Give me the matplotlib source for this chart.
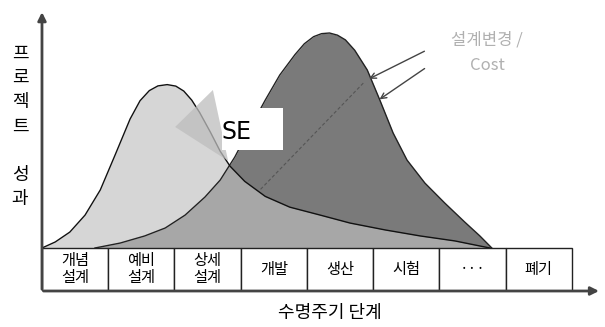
import matplotlib.pyplot as plt
from matplotlib.patches import Rectangle, Polygon

plt.rcParams['font.family'] = ['Noto Sans CJK KR', 'DejaVu Sans']

# life cycle phases (boxes along the x axis)
phases = ['개념\n설계', '예비\n설계', '상세\n설계', '개발', '생산', '시험', '···', '폐기']

# SE effort curve (light), x in phase units, y in % of the cost peak
se_x = [0.00, 0.20, 0.42, 0.65, 0.88, 1.10, 1.33, 1.48, 1.62, 1.75, 1.89, 2.02, 2.14,
        2.26, 2.38, 2.54, 2.69, 2.84, 3.06, 3.37, 3.74, 4.20, 4.65, 5.18, 5.71, 6.23, 6.76]
se_y = [0.0, 2.8, 7.4, 15.3, 27.0, 43.0, 60.0, 68.5, 73.2, 75.4, 76.0, 75.3, 73.0,
        68.8, 63.0, 54.0, 45.0, 38.0, 31.0, 24.0, 19.0, 15.3, 11.6, 8.4, 5.6, 3.3, 0.0]

# design change / cost curve (dark)
cost_x = [0.80, 1.18, 1.55, 1.86, 2.16, 2.46, 2.69, 2.91, 3.14, 3.37, 3.59, 3.82, 3.96,
          4.10, 4.22, 4.34, 4.46, 4.58, 4.72, 4.91, 5.10, 5.30, 5.51, 5.78, 6.08, 6.38,
          6.61, 6.79]
cost_y = [0.0, 2.3, 5.6, 9.3, 15.3, 23.7, 31.6, 42.3, 55.8, 68.8, 80.5, 90.0, 95.0,
          98.3, 99.7, 100.0, 99.0, 96.8, 92.0, 82.8, 68.8, 53.5, 40.9, 30.2, 20.9, 12.1,
          5.6, 0.0]

ylabel = '프로젝트 성과'
xlabel = '수명주기 단계'

fig = plt.figure(figsize=(6.05, 3.27), dpi=100)
ax = fig.add_axes([0.0694, 0.1101, 0.9253, 0.8613])
ax.set_xlim(0, 8.45)
ax.set_ylim(-20, 111)
ax.axis('off')

# curves
ax.fill_between(cost_x, cost_y, color='#7a7a7a', lw=0, zorder=1)
ax.fill_between(se_x, se_y, color='#c0c0c0', alpha=0.65, lw=0, zorder=2)
ax.plot(cost_x, cost_y, color='#222222', lw=1, zorder=3)
ax.plot(se_x, se_y, color='#111111', lw=1, zorder=3)

# faint diagonal inside the cost hump
ax.plot([4.85, 3.29], [76.7, 27.0], color='#555555', lw=0.8, ls=(0, (3, 2)), zorder=3)

# SE block arrow
ax.add_patch(Polygon([(2.58, 73.5), (2.01, 56.3), (2.81, 40.5)],
                     fc='#bdbdbd', ec='none', alpha=0.75, zorder=4))
ax.add_patch(Rectangle((2.72, 45.6), 0.92, 19.5, fc='white', ec='none', zorder=5))
ax.text(2.94, 54, 'SE', fontsize=17, ha='center', va='center',
        family='DejaVu Sans', zorder=6)

# cost annotation
ax.text(6.72, 96.7, '설계변경 /', fontsize=12, color='#b0b0b0', ha='center', va='center')
ax.text(6.73, 84.7, 'Cost', fontsize=12, color='#b0b0b0', ha='center', va='center')
ax.annotate('', xy=(4.90, 78.1), xytext=(5.81, 92.1),
            arrowprops=dict(arrowstyle='->', color='#444444', lw=1))
ax.annotate('', xy=(5.06, 68.4), xytext=(5.81, 84.2),
            arrowprops=dict(arrowstyle='->', color='#444444', lw=1))

# phase boxes
for i, lab in enumerate(phases):
    ax.add_patch(Rectangle((i, -20), 1, 20, fc='white', ec='#222222', lw=1, zorder=5))
    ax.text(i + 0.5, -10, lab, ha='center', va='center', fontsize=11,
            linespacing=1.0, zorder=6)

# axes arrows
ax.annotate('', xy=(8.45, -20), xytext=(-0.02, -20), annotation_clip=False,
            arrowprops=dict(arrowstyle='-|>', color='#444444', lw=2, mutation_scale=12),
            zorder=7)
ax.annotate('', xy=(0, 111), xytext=(0, -20.5), annotation_clip=False,
            arrowprops=dict(arrowstyle='-|>', color='#444444', lw=2, mutation_scale=12),
            zorder=7)

# labels
fig.text(330 / 605, 1 - 313 / 327, xlabel, ha='center', va='center', fontsize=13)
for k, ch in enumerate(ylabel):
    if ch != ' ':
        fig.text(20 / 605, 1 - (54 + k * 24.2) / 327, ch, ha='center', va='center',
                 fontsize=13)

fig.savefig('out.png', dpi=100)
